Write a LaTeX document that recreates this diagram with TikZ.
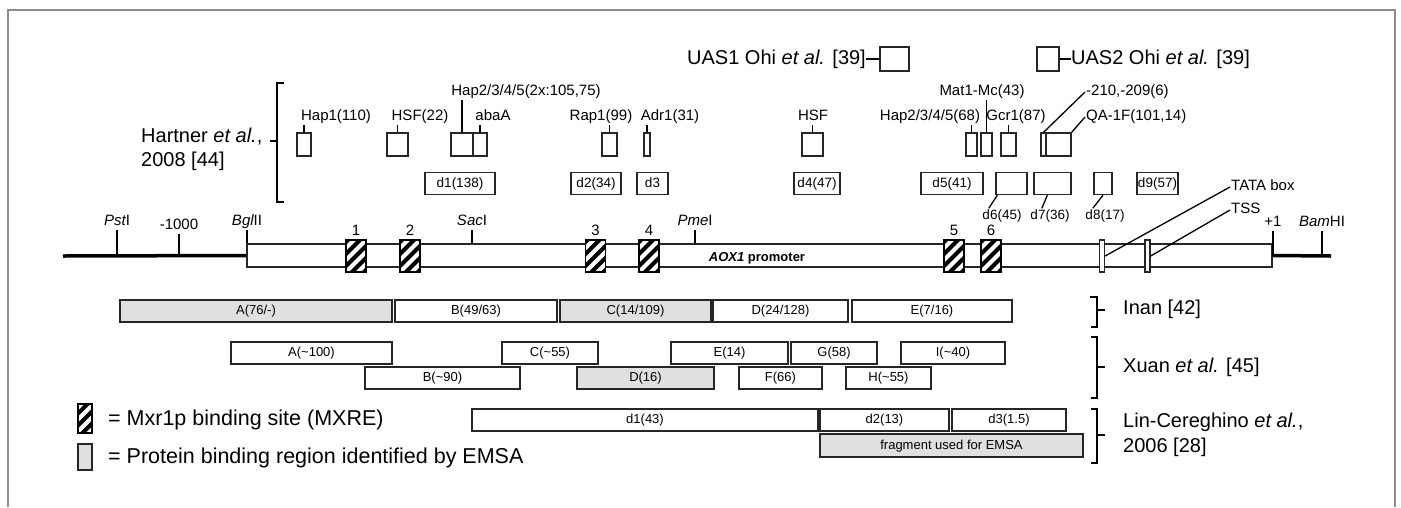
\documentclass[tikz,border=0pt]{standalone}
\usepackage{fontspec}
\setmainfont{Liberation Sans}
\usetikzlibrary{positioning, calc}

\tikzset{
  sitebox/.style={draw=black!85, line width=1.3pt, fill=white, inner sep=0pt, minimum height=23pt},
  delbox/.style={draw=black!85, line width=1.3pt, inner sep=0pt, minimum height=22pt, text height=10pt, text depth=3pt, font=\fontsize{13.5}{15}\selectfont},
  rowbox/.style={draw=black!85, line width=1.8pt, inner sep=0pt, minimum height=22pt, text height=10pt, text depth=3pt, font=\fontsize{13}{15}\selectfont},
  emsa/.style={fill=black!12},
  mxre/.style={draw=black, line width=1.3pt, fill=white, inner sep=0pt, minimum width=20pt, minimum height=32pt,
    path picture={\foreach \k in {-3,...,3}
      \draw[line width=4.2pt] ([shift={({\k*12pt-30pt},-30pt)}]path picture bounding box.center) -- ++(60pt,60pt);}},
  lab/.style={font=\fontsize{15}{17}\selectfont, inner sep=1pt, text height=11pt, text depth=3.5pt},
  dlab/.style={font=\fontsize{13.5}{15}\selectfont, inner sep=1pt, text height=10pt, text depth=3pt},
  refl/.style={font=\fontsize{20}{24.5}\selectfont, inner sep=0pt, align=left},
  dna/.style={line width=3.5pt},
  tickline/.style={line width=1.3pt},
  brk/.style={line width=1.5pt}
}

\begin{document}
\begin{tikzpicture}[x=1pt, y=-1pt]
    \useasboundingbox (0,0) rectangle (1401,507);
    % frame
    \draw[black!45, line width=2pt] (8,507) -- (8,10) -- (1395,10) -- (1395,507);

    % Ohi et al. UAS
    \node[refl, anchor=east] (uas1l) at (866,59) {UAS1 Ohi {\itshape et al.} [39]};
    \node[sitebox, minimum width=29pt, minimum height=24pt] (uas1) at (894.5,59) {};
    \draw[tickline] (uas1l.east) -- (uas1.west);
    \node[sitebox, minimum width=22pt, minimum height=24pt] (uas2) at (1048,59) {};
    \node[refl, anchor=west] (uas2l) at (1071,59) {UAS2 Ohi {\itshape et al.} [39]};
    \draw[tickline] (uas2.east) -- (uas2l.west);

    % Hartner et al. binding sites
    \node[refl, anchor=west] (hartl) at (141,149.5) {Hartner {\itshape et al.},\\2008 [44]};
    \draw[brk] (284,83) -- (277,83) -- (277,202) -- (284,202);
    \draw[brk] (277,141) -- (270,141);

    \node[sitebox, minimum width=14pt] (hap1) at (304,144.5) {};
    \node[lab] (hap1l) at (336,117) {Hap1(110)};
    \node[sitebox, minimum width=21pt] (hsf22) at (397.5,144.5) {};
    \node[lab] (hsf22l) at (420,117) {HSF(22)};
    \node[sitebox, minimum width=22pt] (hapA) at (462,144.5) {};
    \node[lab] (hapAl) at (526,92) {Hap2/3/4/5(2x:105,75)};
    \node[sitebox, minimum width=14pt] (aba) at (480,144.5) {};
    \node[lab] (abal) at (493,117) {abaA};
    \node[sitebox, minimum width=15pt] (rap1) at (609.5,144.5) {};
    \node[lab] (rap1l) at (601,117) {Rap1(99)};
    \node[sitebox, minimum width=6pt] (adr1) at (647,144.5) {};
    \node[lab] (adr1l) at (670,117) {Adr1(31)};
    \node[sitebox, minimum width=21pt] (hsf) at (812.5,144.5) {};
    \node[lab] (hsfl) at (813,117) {HSF};
    \node[sitebox, minimum width=11pt] (hap68) at (971.5,144.5) {};
    \node[lab] (hap68l) at (930,117) {Hap2/3/4/5(68)};
    \node[sitebox, minimum width=11pt] (mat1) at (986.5,144.5) {};
    \node[lab] (mat1l) at (982,92) {Mat1-Mc(43)};
    \node[sitebox, minimum width=15pt] (gcr1) at (1008.5,144.5) {};
    \node[lab] (gcr1l) at (1016,117) {Gcr1(87)};
    \node[sitebox, minimum width=5pt] (m210) at (1043.5,144.5) {};
    \node[lab, anchor=west] (m210l) at (1085,92) {-210,-209(6)};
    \node[sitebox, minimum width=25pt] (qa1f) at (1058.5,144.5) {};
    \node[lab, anchor=west] (qa1fl) at (1085,117) {QA-1F(101,14)};

    \foreach \s in {hap1, hsf22, hapA, aba, rap1, adr1, hsf, hap68, mat1, gcr1}
      \draw[tickline] (\s.north) -- (\s.north |- \s l.south);
    \draw[tickline] (m210.north) -- (m210l.west);
    \draw[tickline] (qa1f.north east) -- (qa1fl.west);

    % Hartner et al. deletions
    \node[delbox, minimum width=70pt] (d1) at (460,183.5) {d1(138)};
    \node[delbox, minimum width=50pt] (d2) at (596,183.5) {d2(34)};
    \node[delbox, minimum width=31pt] (d3) at (652.5,183.5) {d3};
    \node[delbox, minimum width=46pt] (d4) at (817,183.5) {d4(47)};
    \node[delbox, minimum width=62pt] (d5) at (952,183.5) {d5(41)};
    \node[delbox, minimum width=31pt] (d6) at (1011.5,183.5) {};
    \node[delbox, minimum width=37pt] (d7) at (1052.5,183.5) {};
    \node[delbox, minimum width=18pt] (d8) at (1103,183.5) {};
    \node[delbox, minimum width=41pt] (d9) at (1157.5,183.5) {d9(57)};
    \node[dlab] (d6l) at (1002,216) {d6(45)};
    \node[dlab] (d7l) at (1050,216) {d7(36)};
    \node[dlab] (d8l) at (1105,216) {d8(17)};
    \draw[tickline] ([xshift=2pt]d6.south west) -- ([xshift=7.5pt]d6l.north west);
    \draw[tickline] ([xshift=14pt]d7.south west) -- ([xshift=12.5pt]d7l.north west);
    \draw[tickline] (d8.south) -- ([xshift=8.5pt]d8l.north west);

    % promoter
    \node[draw=black!85, line width=1.8pt, minimum width=1025pt, minimum height=23pt, inner sep=0pt] (prom) at (759.5,255.5) {};
    \coordinate (dnaL) at (63,256);
    \coordinate (dnaR) at (1331,256);
    \draw[dna] (dnaL) -- (prom.west);
    \draw[dna] (prom.east) -- (dnaR);
    \node[font=\bfseries\fontsize{13}{15}\selectfont] (promlab) at (757,258) {{\itshape AOX1} promoter};

    \node[lab] (pst) at (117,222) {{\itshape Pst}I};
    \node[lab] (m1000) at (179,226) {-1000};
    \node[lab] (bgl) at (247,222) {{\itshape Bgl}II};
    \node[lab] (sac) at (472,222) {{\itshape Sac}I};
    \node[lab] (pme) at (695,222) {{\itshape Pme}I};
    \node[lab] (plus1) at (1273,223) {+1};
    \node[lab] (bam) at (1322,223) {{\itshape Bam}HI};
    \foreach \s in {pst, m1000, plus1, bam}
      \draw[tickline] (\s.south) -- (\s.south |- dnaL);
    \foreach \s in {bgl, sac, pme}
      \draw[tickline] (\s.south) -- (\s.south |- prom.north);

    \foreach \n/\x in {1/356, 2/410, 3/595.5, 4/649, 5/954, 6/991} {
      \node[mxre] (mx\n) at (\x,256) {};
      \node[lab, above=-1pt of mx\n] (mxn\n) {\n};
    }

    \node[draw=black!85, line width=1.2pt, fill=white, minimum width=5pt, minimum height=32pt, inner sep=0pt] (tata) at (1102,256) {};
    \node[draw=black!85, line width=1.2pt, fill=white, minimum width=5pt, minimum height=32pt, inner sep=0pt] (tss) at (1147.5,256) {};
    \node[lab, anchor=west] (tatal) at (1230,187) {TATA box};
    \node[lab, anchor=west] (tssl) at (1230,210) {TSS};
    \draw[tickline] (tata.east) -- (tatal.west);
    \draw[tickline] (tss.east) -- (tssl.west);

    % Inan
    \node[rowbox, emsa, minimum width=272pt] (inA) at (256,311) {A(76/-)};
    \node[rowbox, minimum width=162pt] (inB) at (476,311) {B(49/63)};
    \node[rowbox, emsa, minimum width=151pt] (inC) at (635.5,311) {C(14/109)};
    \node[rowbox, minimum width=135pt] (inD) at (780.5,311) {D(24/128)};
    \node[rowbox, minimum width=160pt] (inE) at (932,311) {E(7/16)};

    % Xuan et al.
    \node[rowbox, minimum width=161pt] (xuA) at (311.5,353) {A(\textasciitilde100)};
    \node[rowbox, minimum width=96pt] (xuC) at (550,353) {C(\textasciitilde55)};
    \node[rowbox, minimum width=117pt] (xuE) at (729.5,353) {E(14)};
    \node[rowbox, minimum width=86pt] (xuG) at (834,353) {G(58)};
    \node[rowbox, minimum width=104pt] (xuI) at (953,353) {I(\textasciitilde40)};
    \node[rowbox, minimum width=155pt] (xuB) at (442.5,378) {B(\textasciitilde90)};
    \node[rowbox, emsa, minimum width=137pt] (xuD) at (645.5,378) {D(16)};
    \node[rowbox, minimum width=83pt] (xuF) at (780.5,378) {F(66)};
    \node[rowbox, minimum width=85pt] (xuH) at (888.5,378) {H(\textasciitilde55)};

    % Lin-Cereghino et al.
    \node[rowbox, minimum width=346pt] (lcA) at (645,420) {d1(43)};
    \node[rowbox, minimum width=129pt] (lcB) at (884.5,420) {d2(13)};
    \node[rowbox, minimum width=114pt] (lcC) at (1009,420) {d3(1.5)};
    \node[rowbox, emsa, minimum width=263pt, minimum height=23pt] (lcF) at (951.5,445.5) {fragment used for EMSA};

    % brackets
    \draw[brk] (1090,297) -- (1097,297) -- (1097,327) -- (1091,327);
    \draw[brk] (1097,310) -- (1105,310);
    \draw[brk] (1091,337) -- (1097,337) -- (1097,398) -- (1091,398);
    \draw[brk] (1097,367) -- (1105,367);
    \draw[brk] (1091,409) -- (1097,409) -- (1097,463) -- (1091,463);
    \draw[brk] (1097,435) -- (1105,435);
    \node[refl, anchor=west] (inanl) at (1123,309) {Inan [42]};
    \node[refl, anchor=west] (xuanl) at (1123,367) {Xuan {\itshape et al.} [45]};
    \node[refl, anchor=west] (linl) at (1123,435) {Lin-Cereghino {\itshape et al.},\\2006 [28]};

    % legend
    \node[mxre, minimum width=14pt, minimum height=29pt] (legmx) at (85,418.5) {};
    \node[refl, anchor=west, font=\fontsize{21.5}{25}\selectfont] (legmxl) at (108,420) {= Mxr1p binding site (MXRE)};
    \node[sitebox, emsa, minimum width=14pt, minimum height=26pt] (legem) at (85,457) {};
    \node[refl, anchor=west, font=\fontsize{21.5}{25}\selectfont] (legeml) at (108,458) {= Protein binding region identified by EMSA};
\end{tikzpicture}
\end{document}
